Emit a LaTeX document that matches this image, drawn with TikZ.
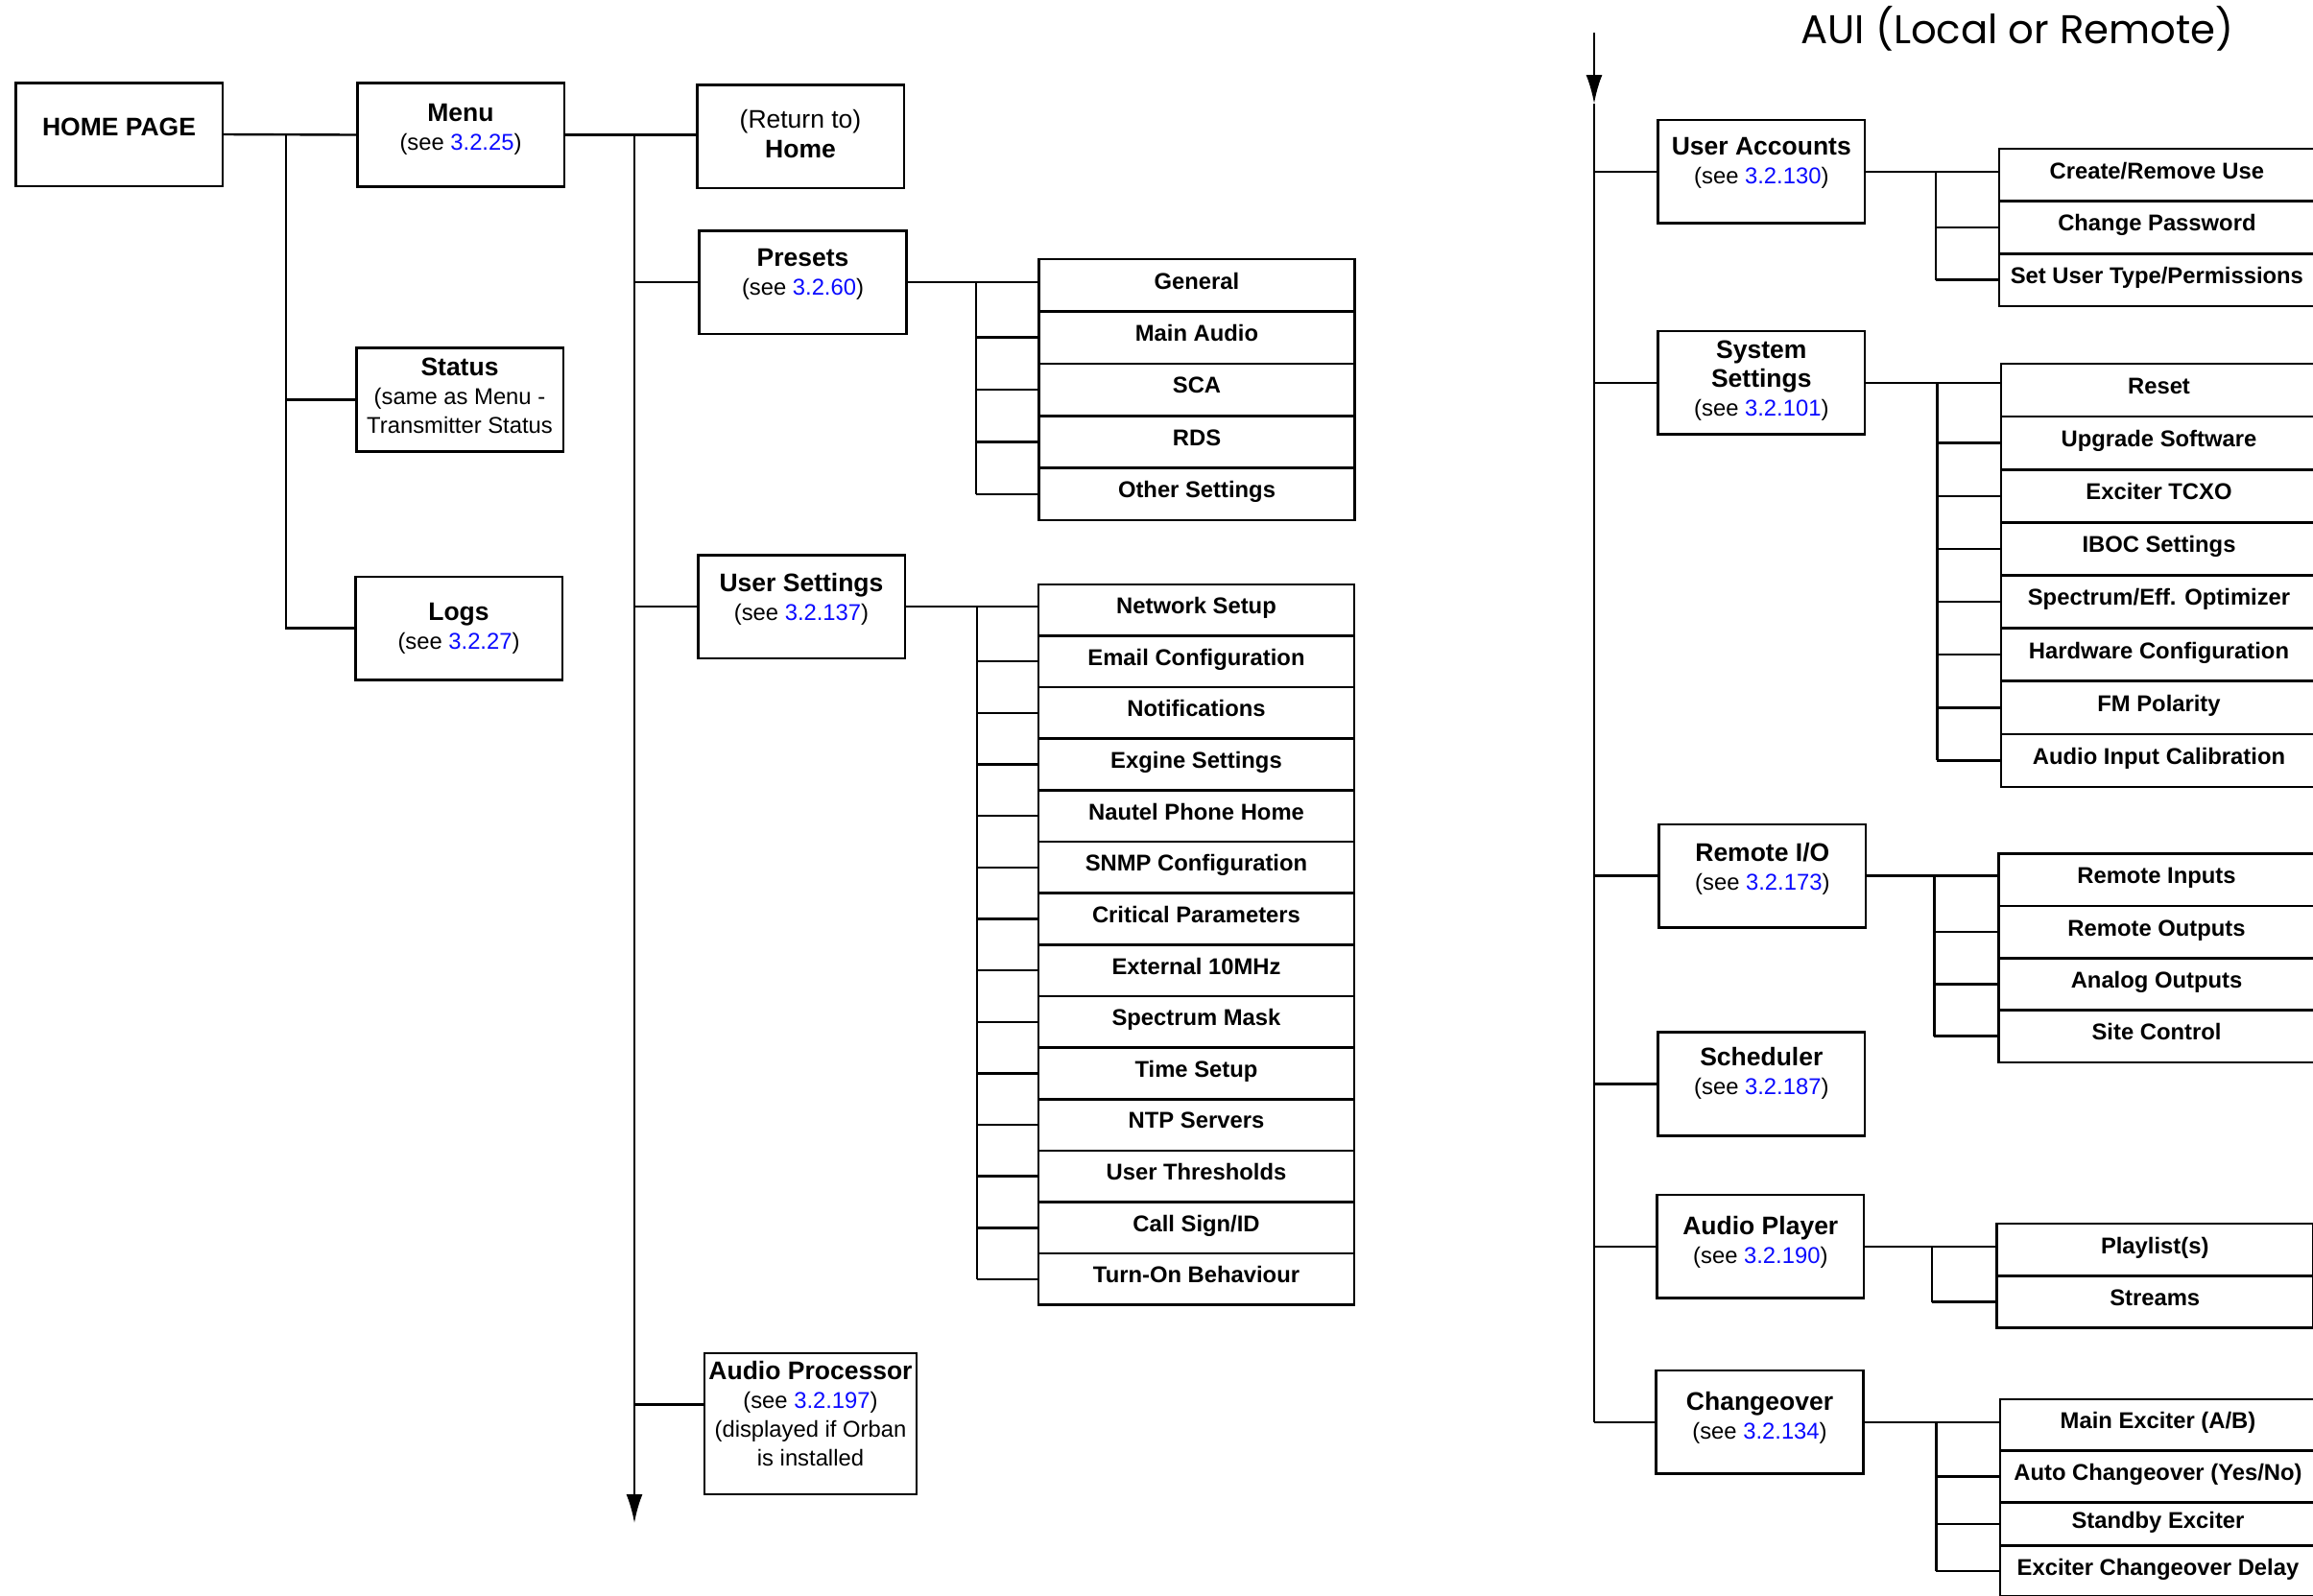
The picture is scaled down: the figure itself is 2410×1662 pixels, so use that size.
\documentclass[tikz,border=0pt]{standalone}
\usepackage{fontspec}
\setmainfont{Liberation Sans}
\newfontfamily\auifont{Poppins}
\usetikzlibrary{arrows.meta,positioning,calc}
\definecolor{refblue}{RGB}{10,10,255}
\newcommand{\seeref}[1]{(see \textcolor{refblue}{#1})}
\newcommand{\boxtitle}[1]{{\fontsize{13.25}{15}\selectfont\bfseries #1}}

\begin{document}
\begin{tikzpicture}[x=0.5pt,y=-0.5pt,
  box/.style={draw,line width=1.3pt,minimum width=107.8pt,minimum height=53.8pt,inner sep=1pt,align=center,font=\fontsize{11.9}{15}\selectfont},
  lift/.style={execute at end node={\rule[-#1]{0pt}{#1}}},
  item/.style={draw,line width=1.3pt,minimum width=164.6pt,minimum height=27.2pt,inner sep=1pt,text height=9pt,text depth=5.1pt,font=\fontsize{11.9}{14}\selectfont\bfseries},
  wire/.style={line width=1.2pt},
  >={Latex[length=15pt,width=8.5pt]}]
\useasboundingbox (0,0) rectangle (2410,1662);
\clip (0,0) rectangle (2410,1662);

% home page and its branches
\node[box,lift=7.7pt] (home) at (124,140) {\boxtitle{HOME PAGE}};
\node[box,lift=7.9pt] (menu) at (480,140.5) {\boxtitle{Menu}\\\seeref{3.2.25}};
\node[box,lift=3.8pt] (status) at (479,416.5) {\boxtitle{Status}\\(same as Menu -\\Transmitter Status};
\node[box] (logs) at (478,654.6) {\boxtitle{Logs}\\\seeref{3.2.27}};
\coordinate (hbus) at (298,140);
\draw[wire] (home.east) -- (menu.west);
\draw[wire] (hbus) |- (logs.west);
\draw[wire] (hbus |- status.west) -- (status.west);

% menu
\node[box,lift=2.3pt,font=\fontsize{13.25}{15.5}\selectfont] (ret) at (834,142) {(Return to)\\\bfseries Home};
\node[box,lift=10.2pt] (presets) at (836.5,294) {\boxtitle{Presets}\\\seeref{3.2.60}};
\node[box,lift=10.2pt] (uset) at (835,632) {\boxtitle{User Settings}\\\seeref{3.2.137}};
\node[box,lift=10.2pt,minimum width=110.6pt,minimum height=73.5pt] (aproc) at (844.5,1483.5) {\boxtitle{Audio Processor}\\\seeref{3.2.197}\\(displayed if Orban\\is installed};
\coordinate (mbus) at (661,141);
\coordinate (mend) at (661,1587);
\coordinate (apin) at ([yshift=10pt]aproc.west);
\draw[wire] (menu.east) -- (menu.east -| ret.west);
\draw[wire,->] (mbus) -- (mend);
\draw[wire] (mbus |- presets.west) -- (presets.west);
\draw[wire] (mbus |- uset.west) -- (uset.west);
\draw[wire] (mbus |- apin) -- (apin);

% presets
\coordinate (pbus) at (1017,294);
\foreach \i/\txt in {0/General,1/Main Audio,2/SCA,3/RDS,4/Other Settings}{
  \node[item] (pre\i) at (1247,{297.2+54.4*\i}) {\txt};
  \ifnum\i>0 \draw[wire] (pbus |- pre\i.west) -- (pre\i.west); \fi
}
\draw[wire] (presets.east) -- (presets.east -| pre0.west);
\draw[wire] (pbus) -- (pbus |- pre4.west);

% user settings
\coordinate (ubus) at (1018,632);
\foreach \i/\txt in {0/Network Setup,1/Email Configuration,2/Notifications,3/Exgine Settings,4/Nautel Phone Home,5/SNMP Configuration,6/Critical Parameters,7/External 10MHz,8/Spectrum Mask,9/Time Setup,10/NTP Servers,11/User Thresholds,12/{Call Sign/ID},13/Turn-On Behaviour}{
  \node[item,minimum height=26.8pt] (us\i) at (1246.5,{635.6+53.64*\i}) {\txt};
  \ifnum\i>0 \draw[wire] (ubus |- us\i.west) -- (us\i.west); \fi
}
\draw[wire] (uset.east) -- (uset.east -| us0.west);
\draw[wire] (ubus) -- (ubus |- us13.west);

% AUI
\node[font=\auifont\fontsize{20.9}{24}\selectfont] (aui) at (2102,30) {AUI (Local or Remote)};
\node[box,lift=11.7pt] (uacc) at (1835.3,178.9) {\boxtitle{User Accounts}\\\seeref{3.2.130}};
\node[box,lift=4.1pt] (sysset) at (1835.3,398.7) {\boxtitle{System}\\\boxtitle{Settings}\\\seeref{3.2.101}};
\node[box,lift=9.4pt] (remio) at (1836.3,912.6) {\boxtitle{Remote I/O}\\\seeref{3.2.173}};
\node[box,lift=13.3pt] (sched) at (1835.3,1129.4) {\boxtitle{Scheduler}\\\seeref{3.2.187}};
\node[box,lift=6.4pt] (aplay) at (1834.3,1298.7) {\boxtitle{Audio Player}\\\seeref{3.2.190}};
\node[box,lift=6.4pt] (chg) at (1833.5,1481.7) {\boxtitle{Changeover}\\\seeref{3.2.134}};
\coordinate (atop) at (1661,34);
\coordinate (atip) at (1661,108);
\draw[wire,->] (atop) -- (atip);
\draw[wire] (atip) -- (atip |- chg.west);
\foreach \n in {uacc,sysset,remio,sched,aplay,chg}
  \draw[wire] (atip |- \n.west) -- (\n.west);

% user accounts
\coordinate (uabus) at (2017,178);
\foreach \i/\txt in {0/{Create/Remove Use},1/Change Password,2/{Set User Type/Permissions}}{
  \node[item,minimum height=27.3pt] (ua\i) at (2247.4,{182.3+54.6*\i}) {\txt};
  \ifnum\i>0 \draw[wire] (uabus |- ua\i.west) -- (ua\i.west); \fi
}
\draw[wire] (uacc.east) -- (uacc.east -| ua0.west);
\draw[wire] (uabus) -- (uabus |- ua2.west);

% system settings
\coordinate (ssbus) at (2018.4,400);
\foreach \i/\txt in {0/Reset,1/Upgrade Software,2/Exciter TCXO,3/IBOC Settings,4/{Spectrum/Eff. Optimizer},5/Hardware Configuration,6/FM Polarity,7/Audio Input Calibration}{
  \node[item,minimum height=27.6pt] (ss\i) at (2249.5,{406.5+55.14*\i}) {\txt};
  \ifnum\i>0 \draw[wire] (ssbus |- ss\i.west) -- (ss\i.west); \fi
}
\draw[wire] (sysset.east) -- (sysset.east -| ss0.west);
\draw[wire] (ssbus) -- (ssbus |- ss7.west);

% remote i/o
\coordinate (rbus) at (2015.3,912);
\foreach \i/\txt in {0/Remote Inputs,1/Remote Outputs,2/Analog Outputs,3/Site Control}{
  \node[item] (rio\i) at (2247,{916.9+54.25*\i}) {\txt};
  \ifnum\i>0 \draw[wire] (rbus |- rio\i.west) -- (rio\i.west); \fi
}
\draw[wire] (remio.east) -- (remio.east -| rio0.west);
\draw[wire] (rbus) -- (rbus |- rio3.west);

% audio player
\coordinate (apbus) at (2013,1298);
\foreach \i/\txt in {0/Playlist(s),1/Streams}{
  \node[item] (apl\i) at (2245.2,{1302.2+54.3*\i}) {\txt};
  \ifnum\i>0 \draw[wire] (apbus |- apl\i.west) -- (apl\i.west); \fi
}
\draw[wire] (aplay.east) -- (aplay.east -| apl0.west);
\draw[wire] (apbus) -- (apbus |- apl1.west);

% changeover
\coordinate (cbus) at (2017.4,1481);
\foreach \i/\yc/\h/\txt in {0/1484.8/26.8/{Main Exciter (A/B)},1/1538.6/27/{Auto Changeover (Yes/No)},2/1588.1/22.5/Standby Exciter,3/1637.1/26.5/Exciter Changeover Delay}{
  \node[item,minimum height=\h pt] (co\i) at (2248.5,\yc) {\txt};
  \ifnum\i>0 \draw[wire] (cbus |- co\i.west) -- (co\i.west); \fi
}
\draw[wire] (chg.east) -- (chg.east -| co0.west);
\draw[wire] (cbus) -- (cbus |- co3.west);
\end{tikzpicture}
\end{document}
